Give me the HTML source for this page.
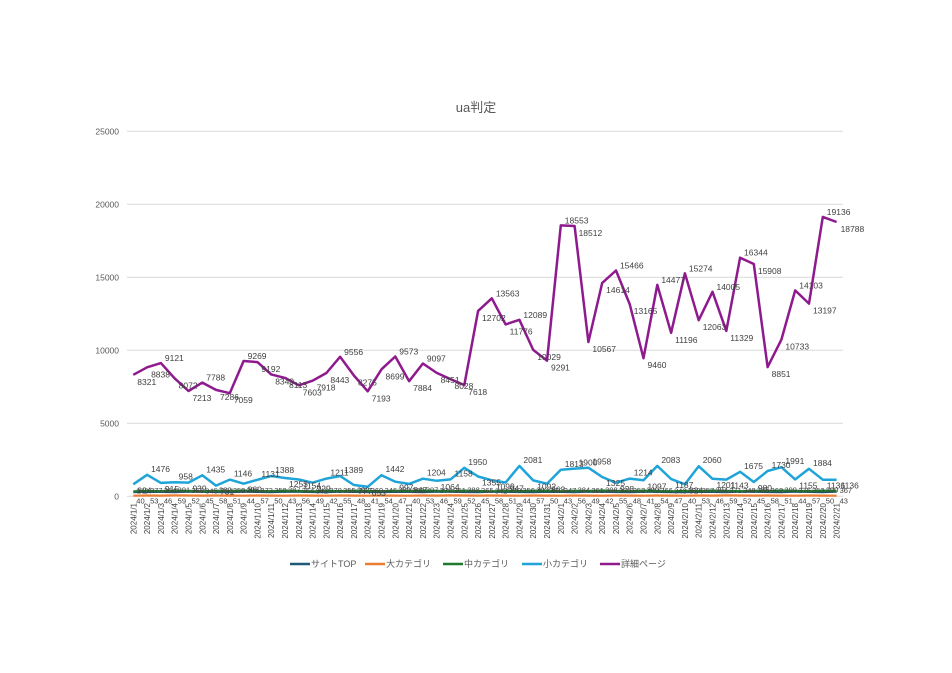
<!DOCTYPE html>
<html><head><meta charset="utf-8"><style>
html,body{margin:0;padding:0;background:#fff;}
svg text{font-family:"Liberation Sans","Noto Sans CJK JP",sans-serif;}
</style></head><body>
<svg id="c" width="952" height="668" xmlns="http://www.w3.org/2000/svg">
<rect width="952" height="668" fill="#fff"/>
<text x="476" y="112" font-size="13" fill="#595959" text-anchor="middle">ua判定</text>
<g id="grid"></g>
<g id="series"></g>
<g id="lbl" font-size="8.5" fill="#404040"></g>
<g id="xl" font-size="8" fill="#404040"></g>
<g font-size="9" fill="#595959">
<line x1="290" y1="564" x2="310" y2="564" stroke="#1f5a7a" stroke-width="2.5"/><text x="311" y="567">サイトTOP</text>
<line x1="365" y1="564" x2="385" y2="564" stroke="#ed7d31" stroke-width="2.5"/><text x="386" y="567">大カテゴリ</text>
<line x1="443" y1="564" x2="463" y2="564" stroke="#1e7a2e" stroke-width="2.5"/><text x="464" y="567">中カテゴリ</text>
<line x1="522" y1="564" x2="542" y2="564" stroke="#1ea4d8" stroke-width="2.5"/><text x="543" y="567">小カテゴリ</text>
<line x1="600" y1="564" x2="620" y2="564" stroke="#8e1a8e" stroke-width="2.5"/><text x="621" y="567">詳細ページ</text>
</g>
</svg>
<script>
var NS="http://www.w3.org/2000/svg";
function el(p,t,a,txt){var e=document.createElementNS(NS,t);for(var k in a)e.setAttribute(k,a[k]);if(txt!==undefined)e.textContent=txt;document.getElementById(p).appendChild(e);return e;}
var y0=496.3,k=73/5000,x0=133.3,dx=13.79;
function Y(v){return y0-v*k;}function X(i){return x0+i*dx;}
for(var g=0;g<=25000;g+=5000){el("grid","line",{x1:127,x2:843,y1:Y(g),y2:Y(g),stroke:"#d9d9d9","stroke-width":1});
el("grid","text",{x:119,y:Y(g)+3,"font-size":8.5,fill:"#595959","text-anchor":"end"},g);}
var P=[8321,8838,9121,8072,7213,7788,7286,7059,9269,9192,8349,8113,7603,7918,8443,9556,8275,7193,8699,9573,7884,9097,8451,8028,7618,12702,13563,11776,12089,10029,9291,18553,18512,10567,14614,15466,13165,9460,14477,11196,15274,12063,14005,11329,16344,15908,8851,10733,14103,13197,19136,18788];
var B=[824,1476,915,958,939,1435,731,1146,860,1131,1388,1253,1154,929,1211,1389,777,653,1442,997,847,1204,1064,1158,1950,1355,1099,947,2081,1092,863,1813,1900,1958,1325,928,1214,1097,2083,1187,824,2060,1201,1143,1675,980,1730,1991,1155,1884,1136,1136];
var G=[],O=[],T=[];
for(var i=0;i<52;i++){G.push(340+(i*37%60));O.push(40+(i*13%20));T.push(280+(i*29%40));}
function line(d,c,w){var s="";d.forEach(function(v,i){s+=(i?"L":"M")+X(i).toFixed(1)+","+Y(v).toFixed(1);});el("series","path",{d:s,fill:"none",stroke:c,"stroke-width":w,"stroke-linejoin":"round"});}
line(T,"#1f5a7a",2.2);line(O,"#ed7d31",2.2);line(G,"#1e7a2e",2.2);line(B,"#1ea4d8",2.5);line(P,"#8e1a8e",2.5);
P.forEach(function(v,i){var up=(i>0&&P[i-1]<v)&&(i<51&&P[i+1]<v);el("lbl","text",{x:X(i)+4,y:Y(v)+(up?-2:10)},v);});
B.forEach(function(v,i){var up=(i>0&&B[i-1]<v);el("lbl","text",{x:X(i)+4,y:Y(v)+(up?-3:9)},v);});
O.forEach(function(v,i){el("lbl","text",{x:X(i)+3,y:Y(v)+8,"font-size":7.5},v);});
G.forEach(function(v,i){el("lbl","text",{x:X(i)+3,y:Y(v)+2,"font-size":7.5},v);});
for(var i=0;i<52;i++){var d=i<31?"2024/1/"+(i+1):"2024/2/"+(i-30);var x=X(i)+3;
el("xl","text",{x:x,y:503,transform:"rotate(-90 "+x+" 503)","text-anchor":"end"},d);}
</script>
</body></html>
